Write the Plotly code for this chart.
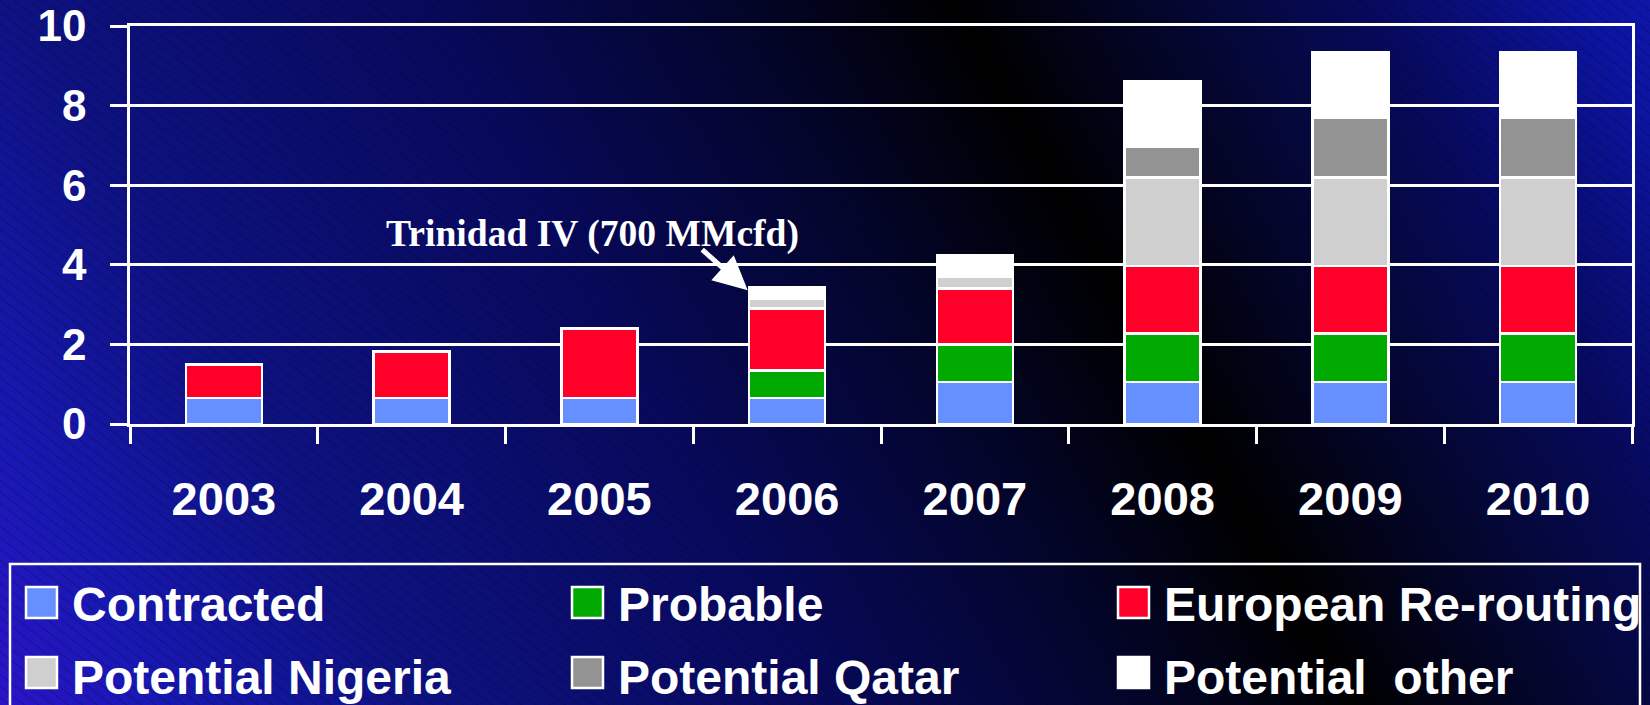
import base64
import plotly.graph_objects as go

# ---------------- data ----------------
years = ["2003", "2004", "2005", "2006", "2007", "2008", "2009", "2010"]
contracted = [0.65, 0.65, 0.65, 0.65, 1.05, 1.05, 1.05, 1.05]
probable = [0, 0, 0, 0.70, 0.95, 1.22, 1.22, 1.22]
european = [0.85, 1.17, 1.75, 1.55, 1.40, 1.70, 1.70, 1.70]
nigeria = [0, 0, 0, 0.25, 0.30, 2.22, 2.22, 2.22]
qatar = [0, 0, 0, 0, 0, 0.78, 1.50, 1.50]
other = [0, 0, 0, 0.28, 0.55, 1.65, 1.65, 1.65]
y_ticks = [0, 2, 4, 6, 8, 10]
annotation_text = "Trinidad IV (700 MMcfd)"

series = [
    ("Contracted", contracted, "#6690FF", "legend"),
    ("Probable", probable, "#00AA00", "legend2"),
    ("European Re-routing", european, "#FF0028", "legend3"),
    ("Potential Nigeria", nigeria, "#CFCFCF", "legend"),
    ("Potential Qatar", qatar, "#939393", "legend2"),
    ("Potential\u00a0 other", other, "#FFFFFF", "legend3"),
]

# ---------------- geometry ----------------
W, H = 1650, 705
L, R, T, B = 130, 18, 26, 281
PW, PH = W - L - R, H - T - B


def px_x(px):
    return (px - L) / PW


def px_y(py):
    return (H - B - py) / PH


# legend layout (pixels): column left edges of swatches, row tops
col_left = {"legend": 26, "legend2": 572, "legend3": 1118}
row_top = [587, 657]
SW = 31

# ---------------- background (gradient + hatch) ----------------
svg = f'''<svg xmlns="http://www.w3.org/2000/svg" width="{W}" height="{H}" viewBox="0 0 {W} {H}" preserveAspectRatio="none">
<defs>
<linearGradient id="g" gradientUnits="userSpaceOnUse" x1="0" y1="705" x2="1551" y2="-175">
<stop offset="0" stop-color="#2a14c8"/>
<stop offset="0.08" stop-color="#1818b2"/>
<stop offset="0.2" stop-color="#0e1282"/>
<stop offset="0.4" stop-color="#08095c"/>
<stop offset="0.55" stop-color="#03052c"/>
<stop offset="0.66" stop-color="#000000"/>
<stop offset="0.8" stop-color="#050840"/>
<stop offset="0.86" stop-color="#07095c"/>
<stop offset="0.965" stop-color="#0c14a0"/>
<stop offset="1" stop-color="#0e16a8"/>
</linearGradient>
<pattern id="h" patternUnits="userSpaceOnUse" width="9" height="9" patternTransform="rotate(38)">
<line x1="0" y1="0.5" x2="9" y2="0.5" stroke="#000000" stroke-opacity="0.22" stroke-width="1"/>
</pattern>
</defs>
<rect x="0" y="0" width="{W}" height="{H}" fill="url(#g)"/>
<rect x="0" y="0" width="{W}" height="{H}" fill="url(#h)"/>
</svg>'''
bg_uri = "data:image/svg+xml;base64," + base64.b64encode(svg.encode()).decode()

fig = go.Figure()

# bars
for name, vals, color, _ in series:
    fig.add_trace(go.Bar(
        x=years, y=vals, name=name, showlegend=False,
        marker=dict(color=color, line=dict(color="white", width=2.5)),
        hoverinfo="skip",
    ))

# legend entries
for name, vals, color, leg in series:
    fig.add_trace(go.Scatter(
        x=[None], y=[None], mode="markers", name=name, legend=leg,
        legendgroup=name, showlegend=True,
        marker=dict(symbol="square", size=16, color=color,
                    line=dict(color=color, width=0)),
    ))

# enlarged swatches behind the legend symbols
shapes = [dict(type="rect", xref="paper", yref="paper",
               x0=px_x(10), x1=px_x(1640), y0=px_y(730), y1=px_y(564),
               line=dict(color="white", width=2.5), fillcolor="rgba(0,0,0,0)")]
counts = {}
for name, vals, color, leg in series:
    r = counts.get(leg, 0)
    counts[leg] = r + 1
    x0 = col_left[leg]
    y0 = row_top[r]
    shapes.append(dict(type="rect", xref="paper", yref="paper",
                       x0=px_x(x0), x1=px_x(x0 + SW),
                       y0=px_y(y0 + SW), y1=px_y(y0),
                       line=dict(color="white", width=2.5), fillcolor=color))

legend_common = dict(
    font=dict(family="Liberation Sans", size=48, color="white", weight="bold"),
    bgcolor="rgba(0,0,0,0)", borderwidth=0, itemwidth=51,
    tracegroupgap=7, xanchor="left", yanchor="top", orientation="v",
    xref="container", yref="container",
    itemclick=False, itemdoubleclick=False,
)
leg_y = 1 - 565 / H

fig.update_layout(
    width=W, height=H,
    margin=dict(l=L, r=R, t=T, b=B, pad=0, autoexpand=False),
    paper_bgcolor="#04063a",
    plot_bgcolor="rgba(0,0,0,0)",
    barmode="stack",
    bargap=0.595,
    showlegend=True,
    legend=dict(x=11 / W, y=leg_y, **legend_common),
    legend2=dict(x=557 / W, y=leg_y, **legend_common),
    legend3=dict(x=1103 / W, y=leg_y, **legend_common),
    images=[dict(source=bg_uri, xref="paper", yref="paper",
                 x=-L / PW, y=1 + T / PH, sizex=W / PW, sizey=H / PH,
                 xanchor="left", yanchor="top", sizing="stretch", layer="below")],
    shapes=shapes,
    xaxis=dict(
        type="category", showgrid=False, showline=True, linecolor="white",
        linewidth=2.5, mirror=True, ticks="outside", tickson="boundaries",
        ticklen=17, tickwidth=2.5, tickcolor="white",
        tickfont=dict(family="Liberation Sans", size=47, color="white", weight="bold"),
        ticklabelstandoff=32, zeroline=False,
    ),
    yaxis=dict(
        range=[0, 10], tickvals=y_ticks, showgrid=True, gridcolor="white",
        gridwidth=2.5, showline=True, linecolor="white", linewidth=2.5,
        mirror=True, ticks="outside", ticklen=17, tickwidth=2.5,
        tickcolor="white", zeroline=False,
        tickfont=dict(family="Liberation Sans", size=44, color="white", weight="bold"),
        ticklabelstandoff=15,
    ),
    annotations=[
        dict(x=1.965, y=4.78, xref="x", yref="y", text=annotation_text,
             showarrow=False, xanchor="center", yanchor="middle",
             font=dict(family="Liberation Serif", size=37.6, color="white", weight="bold")),
        dict(x=2.79, y=3.36, xref="x", yref="y", text="", showarrow=True,
             ax=-47, ay=-42, arrowhead=2, arrowsize=1.35, arrowwidth=5,
             arrowcolor="white", standoff=0),
    ],
)

fig.write_html(
    "out.html",
    config={"displayModeBar": False},
    post_script=("document.body.style.margin='0';document.body.style.padding='0';"
                 "document.body.style.overflow='hidden';"
                 "document.body.style.background='#04063a';"),
)
